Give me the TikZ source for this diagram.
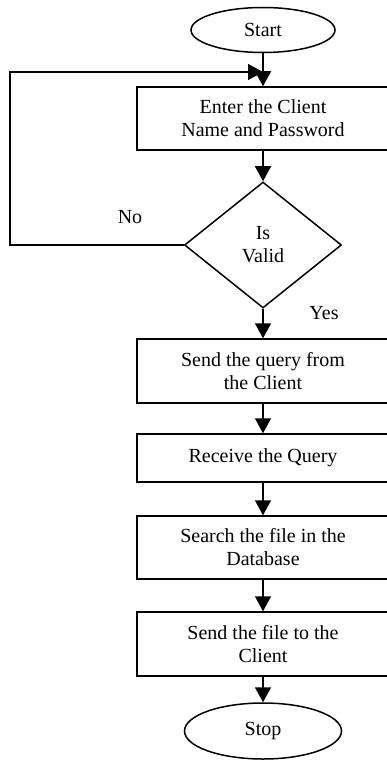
\documentclass[tikz,border=0pt]{standalone}
\usepackage{fontspec}
\setmainfont{Liberation Serif}
\usetikzlibrary{shapes.geometric,arrows.meta}
\begin{document}
\begin{tikzpicture}[x=1pt,y=-1pt,
  every node/.style={font=\fontsize{20}{23}\selectfont},
  line/.style={line width=1.5pt},
  arr/.style={line, -{Triangle[length=15pt,width=16pt]}},
  procbox/.style={draw, line width=1.5pt, rectangle, minimum width=252pt, inner sep=0pt, align=center},
  term/.style={draw, line width=1.5pt, ellipse, inner sep=0pt},
  decide/.style={draw, line width=1.5pt, diamond, minimum width=157pt, minimum height=126pt, inner sep=0pt, align=center}]
\useasboundingbox (0,0) rectangle (387,760);
\node[term, minimum width=144pt, minimum height=45pt] (start) at (263,30) {Start};
\node[procbox, minimum height=63pt] (b1) at (263,118.5) {Enter the Client\\Name and Password};
\node[decide] (d) at (263,245) {Is\\Valid};
\node[procbox, minimum height=64pt] (b2) at (263,371) {Send the query from\\the Client};
\node[procbox, minimum height=48pt] (b3) at (263,458) {Receive the Query};
\node[procbox, minimum height=63pt] (b4) at (263,547.5) {Search the file in the\\Database};
\node[procbox, minimum height=64pt] (b5) at (263,644) {Send the file to the\\Client};
\node[term, minimum width=157pt, minimum height=56pt] (stop) at (263,731) {Stop};
\node (no) at (130,217) {No};
\node (yes) at (324,313) {Yes};
\coordinate (join) at (263,72);
\coordinate (corner) at (10,245);
\draw[arr] (start) -- (b1);
\draw[arr] (b1) -- (d);
\draw[arr] (d) -- (b2);
\draw[arr] (b2) -- (b3);
\draw[arr] (b3) -- (b4);
\draw[arr] (b4) -- (b5);
\draw[arr] (b5) -- (stop);
\draw[arr] (d.west) -- (corner) |- (join);
\end{tikzpicture}
\end{document}
